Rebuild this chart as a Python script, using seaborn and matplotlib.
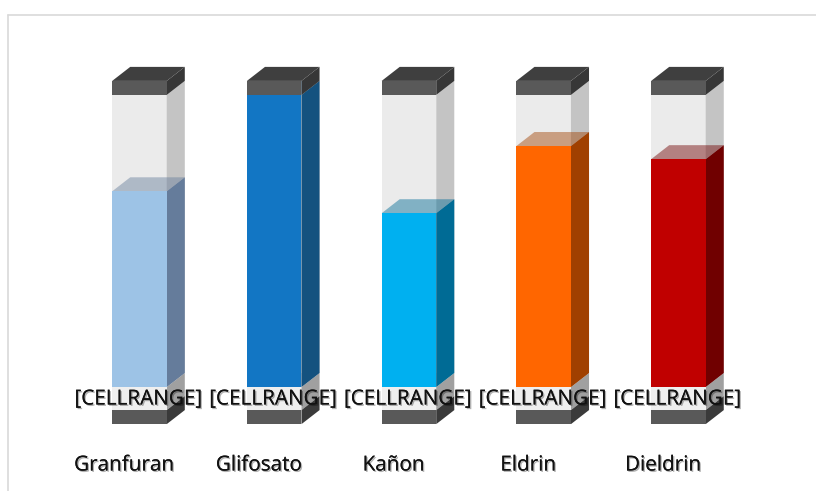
import matplotlib
matplotlib.use("Agg")
import matplotlib.pyplot as plt
import matplotlib.patheffects as pe
import seaborn as sns

categories = ["Granfuran", "Glifosato", "Kañon", "Eldrin", "Dieldrin"]
values = [67, 100, 59.5, 82.5, 78]
full = [100, 100, 100, 100, 100]
cell_labels = ["[CELLRANGE]"] * 5
colors = ["#9DC3E6", "#1276C4", "#00B0F0", "#FF6600", "#C00000"]
side_colors = ["#657C9B", "#14527F", "#006B95", "#A04000", "#700000"]

sns.set_theme(style="white")
plt.rcParams["font.family"] = ["Open Sans", "DejaVu Sans"]

fig, ax = plt.subplots(figsize=(8.16, 4.91), dpi=100)
ax.set_position([0, 0, 1, 1])

bar_w = 0.405
dx = 0.134
dy = 4.8
base = 7.9   # height of the clear part under zero
cap = 4.8


def front_left(i):
    return i - bar_w / 2


def side(i, low, high, color, alpha=1.0):
    x = front_left(i) + bar_w
    ax.fill([x, x + dx, x + dx, x], [low, low + dy, high + dy, high],
            color=color, alpha=alpha, lw=0)


def top(i, level, color, alpha=1.0):
    x = front_left(i)
    ax.fill([x, x + bar_w, x + bar_w + dx, x + dx], [level, level, level + dy, level + dy],
            color=color, alpha=alpha, lw=0)


# glass tube behind the values
sns.barplot(x=categories, y=[f + base for f in full], bottom=-base, color="#EBEBEB",
            saturation=1, width=bar_w, ax=ax, zorder=1)
for i in range(5):
    side(i, -base, 0, "#A0A0A0", )
    side(i, 0, 100, "#C4C4C4")

# filled part
sns.barplot(x=categories, y=values, hue=categories, palette=colors, saturation=1,
            width=bar_w, legend=False, ax=ax, zorder=3)
for i, v in enumerate(values):
    side(i, 0, v, side_colors[i])
    top(i, v, side_colors[i], 0.45)
    top(i, 0, side_colors[i], 0.12)

# clear strip at the foot of the tube
sns.barplot(x=categories, y=[base] * 5, bottom=-base, color="#EFEFEF", saturation=1,
            width=bar_w, ax=ax, zorder=2)

# dark caps, top and bottom
for i in range(5):
    side(i, 100, 100 + cap, "#373737")
    top(i, 100 + cap, "#3F3F3F")
    side(i, -base - cap, -base, "#3A3A3A")
sns.barplot(x=categories, y=[cap] * 5, bottom=100, color="#595959", saturation=1,
            width=bar_w, ax=ax, zorder=4)
sns.barplot(x=categories, y=[cap] * 5, bottom=-base - cap, color="#595959", saturation=1,
            width=bar_w, ax=ax, zorder=4)
for c in ax.patches:
    c.set_edgecolor("none")

ax.set_xlim(-1.035, 5.021)
ax.set_ylim(-35.6, 132.5)
ax.axis("off")

shadow = [pe.withSimplePatchShadow(offset=(1, -1), shadow_rgbFace="#000000", alpha=0.3), pe.Normal()]
for i in range(5):
    ax.text(i - 0.01, -4.1, cell_labels[i], ha="center", va="center", fontsize=14.9,
            color="#111111", zorder=6, path_effects=shadow)
    ax.text(i - 0.115, -26.7, categories[i], ha="center", va="center", fontsize=14.9,
            color="#111111", zorder=6, path_effects=shadow)

# chart frame, only the top and left edges show
fig.add_artist(plt.Line2D([7.5 / 816, 7.5 / 816], [0, 1 - 14.5 / 491], color="#D9D9D9", lw=1.2))
fig.add_artist(plt.Line2D([7.5 / 816, 1], [1 - 14.5 / 491, 1 - 14.5 / 491], color="#D9D9D9", lw=1.2))

fig.savefig("out.png", dpi=100)
